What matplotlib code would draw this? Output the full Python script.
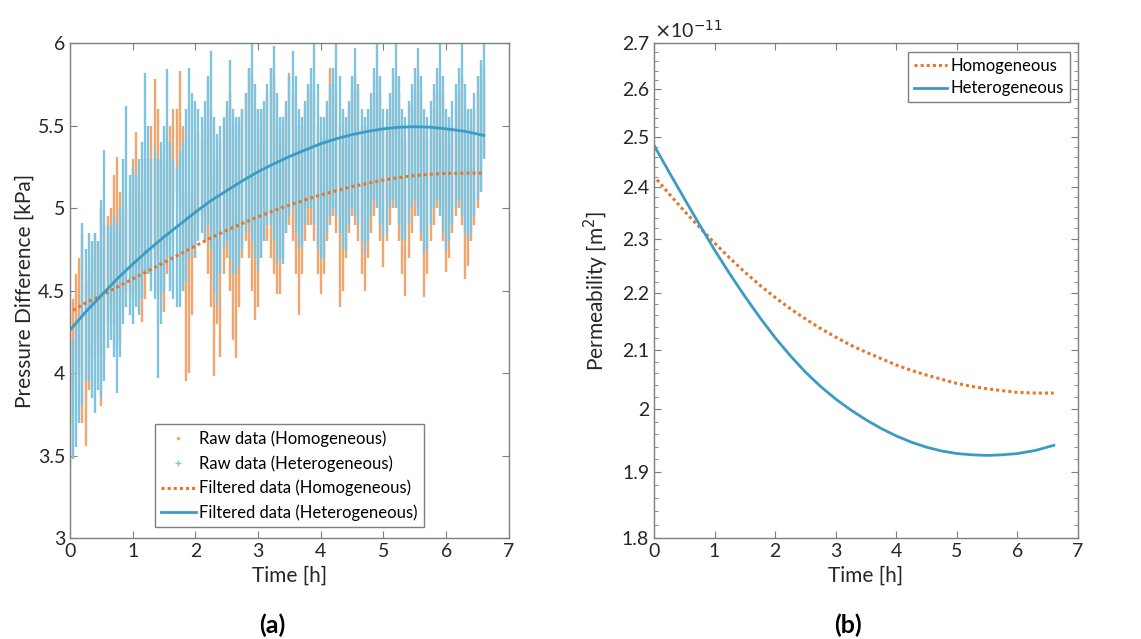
import numpy as np
import matplotlib

matplotlib.use("Agg")
import matplotlib.pyplot as plt
from matplotlib.lines import Line2D
from matplotlib.ticker import FixedLocator, NullFormatter

plt.rcParams["font.family"] = ["Lato", "DejaVu Sans"]

# ---- raw pressure difference, read as low/high envelope every 0.05 h (kPa) ----
raw_time = np.linspace(0.0, 6.6, 133)

hetero_high = [
    4.00, 4.20, 4.30, 4.35, 4.91, 4.75, 4.85, 4.80, 4.85, 4.80, 5.05, 5.35, 4.90,
    4.90, 4.95, 4.90, 5.00, 5.30, 5.62, 5.20, 5.25, 5.20, 5.30, 5.40, 5.82,
    5.50, 5.30, 5.35, 5.30, 5.40, 5.50, 5.84, 5.40, 5.30, 5.25, 5.35, 5.40, 5.60, 5.85,
    5.70, 5.65, 5.60, 5.55, 5.65, 5.80, 5.95, 5.55, 5.45, 5.50, 5.55, 5.65, 5.90, 5.60,
    5.55, 5.55, 5.60, 5.70, 5.85, 6.00, 5.75, 5.60, 5.60, 5.65, 5.75, 5.85, 5.98, 5.70,
    5.55, 5.55, 5.65, 5.80, 5.95, 5.80, 5.60, 5.55, 5.65, 5.75, 5.85, 6.00, 5.75, 5.55,
    5.55, 5.65, 5.75, 5.85, 6.00, 5.80, 5.60, 5.55, 5.65, 5.80, 5.97, 5.75, 5.60, 5.55,
    5.60, 5.70, 5.85, 6.00, 5.80, 5.60, 5.60, 5.70, 5.85, 6.00, 5.80, 5.60, 5.55, 5.65,
    5.75, 5.85, 5.97, 5.80, 5.60, 5.55, 5.65, 5.75, 5.85, 6.00, 5.80, 5.60, 5.55, 5.65,
    5.75, 5.85, 6.00, 5.75, 5.60, 5.60, 5.70, 5.80, 5.90, 6.00,
]
hetero_low = [
    3.42, 3.48, 3.55, 3.70, 3.80, 3.95, 3.95, 3.85, 3.76, 3.90, 3.85, 3.95, 4.15,
    4.20, 4.10, 3.88, 4.10, 4.30, 4.40, 4.35, 4.30, 4.40, 4.35, 4.45, 4.60,
    4.60, 4.50, 4.45, 3.97, 4.30, 4.50, 4.70, 4.50, 4.45, 4.40, 4.40, 4.50, 4.55, 4.70,
    4.75, 4.70, 4.80, 4.85, 4.80, 4.90, 4.75, 4.50, 4.40, 4.60, 4.75, 4.80, 4.70, 4.60,
    4.60, 4.65, 4.75, 4.85, 4.90, 4.80, 4.70, 4.62, 4.70, 4.80, 4.90, 4.90, 4.80, 4.66,
    4.70, 4.66, 4.85, 4.95, 5.00, 4.85, 4.75, 4.77, 4.90, 5.00, 5.00, 4.90, 4.75, 4.69,
    4.69, 4.85, 4.95, 5.00, 4.95, 4.85, 4.75, 4.74, 4.90, 5.00, 4.95, 4.90, 4.80, 4.73,
    4.80, 4.95, 5.05, 5.00, 4.90, 4.82, 4.85, 5.00, 5.05, 5.00, 4.90, 4.81, 4.80, 4.90,
    5.00, 5.05, 4.95, 4.85, 4.72, 4.75, 4.90, 5.00, 5.05, 4.95, 4.85, 4.74, 4.80, 4.90,
    5.00, 5.05, 4.95, 4.85, 4.80, 4.85, 4.95, 5.05, 5.10, 5.30,
]
homog_high = [
    4.35, 4.45, 4.60, 4.70, 4.85, 4.55, 4.60, 4.70, 4.85, 4.80, 5.00, 4.90, 4.95,
    5.00, 5.20, 5.31, 5.10, 4.95, 5.00, 5.10, 5.30, 5.46, 5.10, 5.00, 5.30,
    5.30, 5.50, 5.78, 5.60, 5.30, 5.20, 5.40, 5.50, 5.60, 5.60, 5.83, 5.50, 5.10, 5.00,
    5.10, 5.30, 5.45, 5.40, 5.50, 5.77, 5.60, 5.20, 5.30, 5.40, 5.50, 5.60, 5.70, 5.50,
    5.40, 5.50, 5.60, 5.70, 5.85, 5.80, 5.60, 5.40, 5.50, 5.60, 5.70, 5.85, 5.80, 5.50,
    5.40, 5.50, 5.60, 5.82, 5.70, 5.50, 5.40, 5.50, 5.60, 5.70, 5.75, 5.70, 5.50, 5.40,
    5.45, 5.60, 5.85, 5.75, 5.70, 5.50, 5.40, 5.50, 5.60, 5.70, 5.80, 5.70, 5.50, 5.40,
    5.50, 5.60, 5.70, 5.80, 5.70, 5.50, 5.50, 5.60, 5.70, 5.80, 5.70, 5.50, 5.40, 5.50,
    5.60, 5.70, 5.80, 5.70, 5.50, 5.40, 5.50, 5.60, 5.70, 5.80, 5.70, 5.50, 5.40, 5.50,
    5.60, 5.70, 5.80, 5.60, 5.40, 5.50, 5.60, 5.70, 5.80, 5.85,
]
homog_low = [
    3.70, 3.90, 4.10, 4.00, 3.70, 3.56, 3.90, 4.10, 4.20, 4.10, 3.80, 4.10, 4.30,
    4.40, 4.30, 4.15, 4.20, 4.40, 4.50, 4.50, 4.45, 4.50, 4.40, 4.31, 4.45,
    4.60, 4.60, 4.70, 4.50, 4.45, 4.37, 4.60, 4.80, 5.00, 5.10, 5.00, 4.50, 3.95, 4.00,
    4.35, 4.70, 4.90, 4.95, 4.80, 4.60, 4.40, 3.98, 4.30, 4.10, 4.60, 4.70, 4.50, 4.20,
    4.09, 4.40, 4.70, 4.80, 4.70, 4.50, 4.32, 4.40, 4.70, 4.80, 4.80, 4.70, 4.60, 4.48,
    4.48, 4.70, 4.85, 4.90, 4.80, 4.60, 4.35, 4.60, 4.80, 4.90, 4.90, 4.80, 4.60, 4.48,
    4.60, 4.80, 4.90, 4.95, 4.85, 4.40, 4.50, 4.70, 4.85, 4.95, 4.90, 4.80, 4.60, 4.50,
    4.70, 4.85, 4.95, 5.00, 4.80, 4.64, 4.80, 4.90, 5.00, 5.00, 4.80, 4.60, 4.47, 4.70,
    4.85, 4.95, 5.00, 4.80, 4.46, 4.60, 4.80, 4.90, 5.00, 5.00, 4.80, 4.61, 4.70, 4.85,
    4.95, 5.00, 4.90, 4.57, 4.65, 4.80, 4.90, 5.00, 5.10, 5.30,
]

# ---- filtered pressure difference (kPa) ----
filt_hetero_t = [0.0, 0.25, 0.5, 0.75, 1.0, 1.25, 1.5, 1.75, 2.0, 2.25, 2.5, 2.75, 3.0, 3.25,
                 3.5, 3.75, 4.0, 4.25, 4.5, 4.75, 5.0, 5.25, 5.5, 5.75, 6.0, 6.3, 6.6]
filt_hetero = [4.26, 4.37, 4.47, 4.57, 4.66, 4.745, 4.825, 4.90, 4.975, 5.045, 5.105, 5.165, 5.22,
               5.268, 5.312, 5.352, 5.39, 5.42, 5.445, 5.465, 5.48, 5.49, 5.493, 5.49, 5.48,
               5.465, 5.44]
filt_homog_t = [0.05, 0.25, 0.5, 0.75, 1.0, 1.25, 1.5, 1.75, 2.0, 2.25, 2.5, 2.75, 3.0, 3.25,
                3.5, 3.75, 4.0, 4.25, 4.5, 4.75, 5.0, 5.25, 5.5, 5.75, 6.0, 6.3, 6.6]
filt_homog = [4.38, 4.425, 4.47, 4.52, 4.57, 4.62, 4.67, 4.72, 4.77, 4.82, 4.865, 4.907, 4.947,
              4.984, 5.018, 5.05, 5.08, 5.105, 5.13, 5.15, 5.17, 5.185, 5.197, 5.205, 5.21,
              5.212, 5.212]

# ---- permeability (units of 1e-11 m^2) ----
perm_hetero_t = [0.0, 0.25, 0.5, 0.75, 1.0, 1.25, 1.5, 1.75, 2.0, 2.25, 2.5, 2.75, 3.0, 3.25,
                 3.5, 3.75, 4.0, 4.25, 4.5, 4.75, 5.0, 5.25, 5.5, 5.75, 6.0, 6.3, 6.6]
perm_hetero = [2.483, 2.429, 2.377, 2.327, 2.279, 2.235, 2.194, 2.156, 2.121, 2.090, 2.062,
               2.038, 2.017, 1.999, 1.983, 1.969, 1.957, 1.947, 1.939, 1.933, 1.929, 1.927,
               1.926, 1.927, 1.929, 1.934, 1.942]
perm_homog_t = [0.05, 0.25, 0.5, 0.75, 1.0, 1.25, 1.5, 1.75, 2.0, 2.25, 2.5, 2.75, 3.0, 3.25,
                3.5, 3.75, 4.0, 4.25, 4.5, 4.75, 5.0, 5.25, 5.5, 5.75, 6.0, 6.3, 6.6]
perm_homog = [2.414, 2.386, 2.353, 2.322, 2.292, 2.264, 2.238, 2.214, 2.192, 2.172, 2.154,
              2.137, 2.122, 2.108, 2.096, 2.085, 2.074, 2.065, 2.057, 2.050, 2.043, 2.038,
              2.034, 2.031, 2.028, 2.027, 2.027]

RAW_ORANGE = "#F2A66E"
RAW_BLUE = "#7EC4DF"
FILT_ORANGE = "#E8762A"
FILT_BLUE = "#3C9BC4"
SPINE = "#7f7f7f"
TEXT = "#262626"


def style_axes(ax):
    for sp in ax.spines.values():
        sp.set_color(SPINE)
        sp.set_linewidth(1.0)
    ax.tick_params(which="both", direction="in", top=True, right=True,
                   color=SPINE, labelcolor=TEXT, labelsize=14)
    ax.tick_params(which="major", length=5)
    ax.tick_params(which="minor", length=3)


fig = plt.figure(figsize=(11.41, 6.39), dpi=100)
ax_a = fig.add_axes([0.0613, 0.158, 0.3847, 0.7746])
ax_b = fig.add_axes([0.5732, 0.158, 0.3716, 0.7746])

# ---- (a) pressure difference: raw envelopes as thin vertical streaks ----
ax_a.vlines(raw_time, homog_low, homog_high, color=RAW_ORANGE, linewidth=1.7)
ax_a.vlines(raw_time, hetero_low, hetero_high, color=RAW_BLUE, linewidth=1.7)
ax_a.plot(filt_homog_t, filt_homog, color=FILT_ORANGE, linestyle=(0, (1, 1)), linewidth=2.2)
ax_a.plot(filt_hetero_t, filt_hetero, color=FILT_BLUE, linewidth=2.0)
ax_a.set_xlim(0, 7)
ax_a.set_ylim(3, 6)
ax_a.set_xticks(range(0, 8))
ax_a.set_yticks([3, 3.5, 4, 4.5, 5, 5.5, 6])
ax_a.set_yticklabels(["3", "3.5", "4", "4.5", "5", "5.5", "6"])
ax_a.set_xlabel("Time [h]", fontsize=15, color=TEXT)
ax_a.set_ylabel("Pressure Difference [kPa]", fontsize=15, color=TEXT, labelpad=2)
style_axes(ax_a)

handles_a = [
    Line2D([], [], linestyle="none", marker=".", markersize=3, color=RAW_ORANGE),
    Line2D([], [], linestyle="none", marker="+", markersize=5, color=RAW_BLUE),
    Line2D([], [], color=FILT_ORANGE, linestyle=(0, (1, 1)), linewidth=2.2),
    Line2D([], [], color=FILT_BLUE, linewidth=2.0),
]
labels_a = [
    "Raw data (Homogeneous)",
    "Raw data (Heterogeneous)",
    "Filtered data (Homogeneous)",
    "Filtered data (Heterogeneous)",
]
leg = ax_a.legend(handles_a, labels_a, loc="lower center", bbox_to_anchor=(0.5, 0.022),
                  borderaxespad=0, fontsize=12, handlelength=2.1, handletextpad=0.2,
                  labelspacing=0.5, borderpad=0.35, fancybox=False, framealpha=1)
leg.get_frame().set_edgecolor(SPINE)

# ---- (b) permeability ----
ax_b.plot(perm_homog_t, perm_homog, color=FILT_ORANGE, linestyle=(0, (1, 1)), linewidth=2.2,
          label="Homogeneous")
ax_b.plot(perm_hetero_t, perm_hetero, color=FILT_BLUE, linewidth=2.0, label="Heterogeneous")
ax_b.set_yscale("log")
ax_b.set_xlim(0, 7)
ax_b.set_ylim(1.8, 2.7)
ax_b.set_xticks(range(0, 8))
major = [1.8, 1.9, 2.0, 2.1, 2.2, 2.3, 2.4, 2.5, 2.6, 2.7]
ax_b.yaxis.set_major_locator(FixedLocator(major))
ax_b.set_yticklabels(["1.8", "1.9", "2", "2.1", "2.2", "2.3", "2.4", "2.5", "2.6", "2.7"])
minor = [round(1.8 + 0.02 * i, 2) for i in range(46) if i % 5 != 0]
ax_b.yaxis.set_minor_locator(FixedLocator(minor))
ax_b.yaxis.set_minor_formatter(NullFormatter())
ax_b.set_xlabel("Time [h]", fontsize=15, color=TEXT)
ax_b.set_ylabel("Permeability [m$^2$]", fontsize=15, color=TEXT, labelpad=8)
style_axes(ax_b)
ax_b.tick_params(axis="x", which="minor", bottom=False, top=False)
ax_b.text(0.0, 1.005, r"$\times$10$^{-11}$", transform=ax_b.transAxes, ha="left", va="bottom",
          fontsize=14, color=TEXT)
leg_b = ax_b.legend(loc="upper right", bbox_to_anchor=(0.981, 0.982), borderaxespad=0,
                    fontsize=12, handlelength=2.0, handletextpad=0.2, labelspacing=0.4,
                    borderpad=0.35, fancybox=False, framealpha=1)
leg_b.get_frame().set_edgecolor(SPINE)

fig.text(272 / 1141, 1 - 625 / 639, "(a)", ha="center", va="center", fontsize=18,
         fontweight="bold", color="black")
fig.text(848 / 1141, 1 - 625 / 639, "(b)", ha="center", va="center", fontsize=18,
         fontweight="bold", color="black")

fig.savefig("out.png", dpi=100)
